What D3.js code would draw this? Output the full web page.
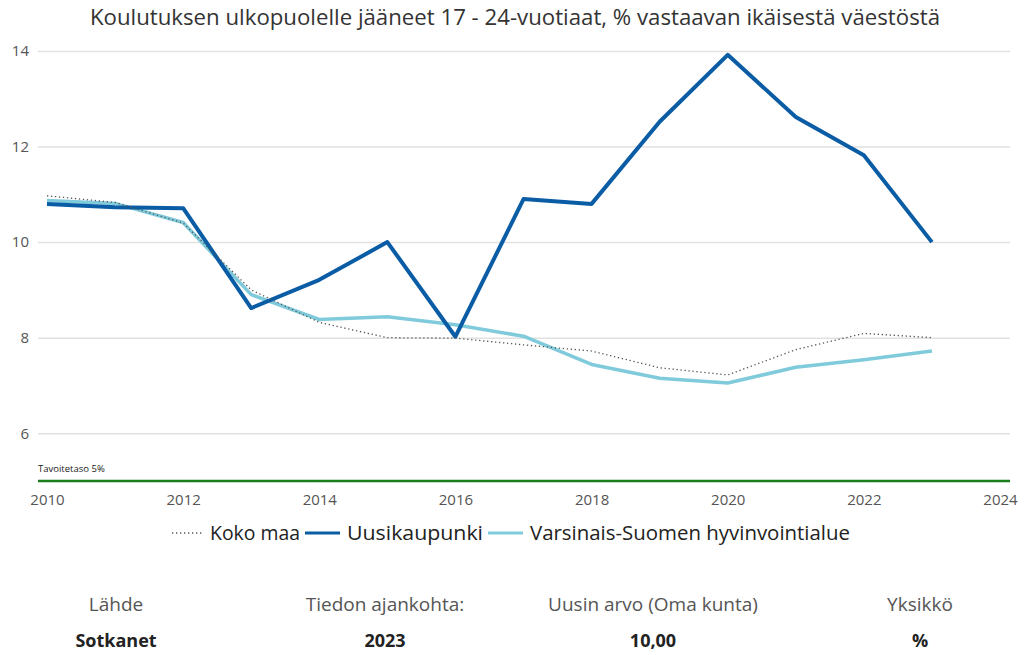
<!DOCTYPE html>
<html>
<head>
<meta charset="utf-8">
<script src="https://cdn.jsdelivr.net/npm/d3@7"></script>
<style>
  body { margin: 0; background: #fff; }
  text { font-family: "Open Sans", "Noto Sans", sans-serif; }
</style>
</head>
<body>
<div id="chart"></div>
<script>
// data
const years = [2010, 2011, 2012, 2013, 2014, 2015, 2016, 2017, 2018, 2019, 2020, 2021, 2022, 2023];
const kokoMaa = [10.97, 10.83, 10.4, 9.0, 8.32, 8.0, 7.99, 7.85, 7.72, 7.37, 7.22, 7.75, 8.09, 8.0];
const uusikaupunki = [10.8, 10.73, 10.71, 8.62, 9.21, 10.0, 8.02, 10.9, 10.8, 12.52, 13.92, 12.62, 11.82, 10.0];
const varsinais = [10.87, 10.81, 10.41, 8.9, 8.38, 8.44, 8.27, 8.03, 7.44, 7.15, 7.05, 7.38, 7.54, 7.72];
const yTicks = [6, 8, 10, 12, 14];
const xTicks = [2010, 2012, 2014, 2016, 2018, 2020, 2022, 2024];
const target = 5;
const footerLabels = ["Lähde", "Tiedon ajankohta:", "Uusin arvo (Oma kunta)", "Yksikkö"];
const footerValues = ["Sotkanet", "2023", "10,00", "%"];

const W = 1024, H = 655;
const svg = d3.select("#chart").append("svg")
  .attr("width", W).attr("height", H);

let x = d3.scaleLinear().domain([2010, 2024]).range([47, 1000]);
let y = d3.scaleLinear().domain([5, 14]).range([481, 51]);

// title
svg.append("text")
  .attr("x", 515).attr("y", 25)
  .attr("text-anchor", "middle")
  .attr("textLength", 850)
  .attr("lengthAdjust", "spacingAndGlyphs")
  .style("font-size", "21px")
  .style("fill", "#333")
  .text("Koulutuksen ulkopuolelle jääneet 17 - 24-vuotiaat, % vastaavan ikäisestä väestöstä");

// gridlines + y labels
let yAxis = svg.append("g")
  .attr("transform", "translate(38,0)")
  .call(d3.axisLeft(y).tickValues(yTicks).tickSize(-972).tickPadding(9));
yAxis.select(".domain").remove();
yAxis.selectAll("line").style("stroke", "#e1e1e1").style("stroke-width", 1.5);
yAxis.selectAll("text").style("font-size", "15px").style("fill", "#555").style("font-family", "Open Sans, sans-serif");

// x labels
let xAxis = svg.append("g")
  .attr("transform", "translate(0,481)")
  .call(d3.axisBottom(x).tickValues(xTicks).tickFormat(d3.format("d")).tickSize(0).tickPadding(13));
xAxis.select(".domain").remove();
xAxis.selectAll("text").style("font-size", "15px").style("fill", "#555").style("font-family", "Open Sans, sans-serif");

// target line
svg.append("line")
  .attr("x1", 38).attr("x2", 1010)
  .attr("y1", y(target)).attr("y2", y(target))
  .style("stroke", "#1b7d1b").style("stroke-width", 2.5);
svg.append("text")
  .attr("x", 38).attr("y", y(target) - 9)
  .style("font-size", "9.5px").style("fill", "#222")
  .text("Tavoitetaso 5%");

let line = d3.line()
  .x((d, i) => x(years[i]))
  .y(d => y(d));

svg.append("path").datum(varsinais)
  .attr("d", line)
  .style("fill", "none").style("stroke", "#80cbdb").style("stroke-width", 3.5)
  .style("stroke-linejoin", "round");
svg.append("path").datum(uusikaupunki)
  .attr("d", line)
  .style("fill", "none").style("stroke", "#0a5ca5").style("stroke-width", 4)
  .style("stroke-linejoin", "round");
svg.append("path").datum(kokoMaa)
  .attr("d", line)
  .style("fill", "none").style("stroke", "#555").style("stroke-width", 1.3)
  .style("stroke-dasharray", "1.3,2.7");

// legend
let legend = [
  {name: "Koko maa", color: "#555", dash: "1.3,2.7", w: 1.3, x: 172, tw: 90},
  {name: "Uusikaupunki", color: "#0a5ca5", dash: null, w: 3, x: 305, tw: 136},
  {name: "Varsinais-Suomen hyvinvointialue", color: "#80cbdb", dash: null, w: 3, x: 488, tw: 320}
];
let lg = svg.append("g").selectAll("g").data(legend).enter().append("g")
  .attr("transform", d => "translate(" + d.x + ",533)");
lg.append("line")
  .attr("x1", 0).attr("x2", d => d.dash ? 31 : 35)
  .style("stroke", d => d.color).style("stroke-width", d => d.w)
  .style("stroke-dasharray", d => d.dash);
lg.append("text")
  .attr("x", d => d.dash ? 38 : 42).attr("y", 7)
  .attr("textLength", d => d.tw)
  .attr("lengthAdjust", "spacingAndGlyphs")
  .style("font-size", "20px").style("fill", "#222")
  .text(d => d.name);

// footer
let cols = [116, 385, 653, 920];
svg.append("g").selectAll("text").data(footerLabels).enter().append("text")
  .attr("x", (d, i) => cols[i]).attr("y", 611)
  .attr("text-anchor", "middle")
  .style("font-size", "19px").style("fill", "#555")
  .text(d => d);
svg.append("g").selectAll("text").data(footerValues).enter().append("text")
  .attr("x", (d, i) => cols[i]).attr("y", 647)
  .attr("text-anchor", "middle")
  .style("font-size", "18px").style("font-weight", "bold").style("fill", "#222")
  .text(d => d);
</script>
</body>
</html>
